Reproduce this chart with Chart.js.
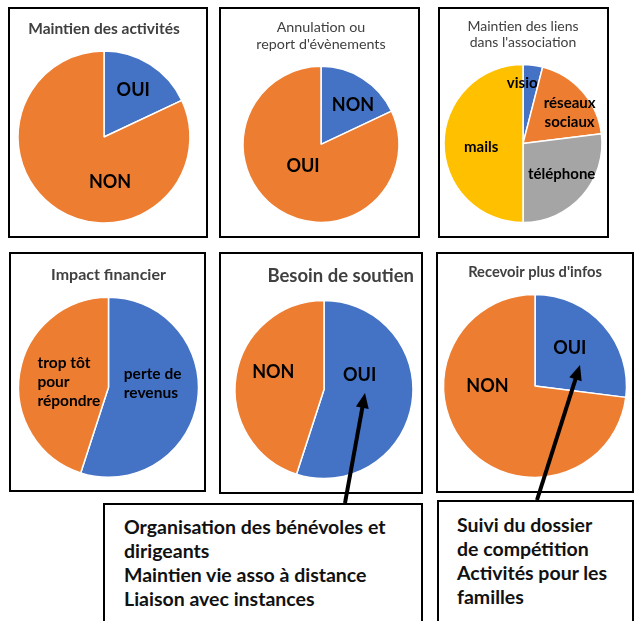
<!DOCTYPE html>
<html lang="fr">
<head>
<meta charset="utf-8">
<script src="https://cdn.jsdelivr.net/npm/chart.js@4.4.1/dist/chart.umd.min.js"></script>
<style>
  html, body { margin: 0; padding: 0; background: #fff; }
  body { width: 639px; height: 621px; position: relative; overflow: hidden; font-family: Lato, sans-serif; }
  .box { position: absolute; border: 2px solid #000; box-sizing: border-box; background: #fff; }
  .box canvas { position: absolute; left: 0; top: 0; }
  .note { position: absolute; border: 2px solid #000; border-bottom: none; box-sizing: border-box;
          font-weight: bold; font-size: 19.5px; line-height: 24px; color: #111; background: #fff; white-space: nowrap; }
  #arrows { position: absolute; left: 0; top: 0; }
</style>
</head>
<body>
<div class="note" style="left:103px; top:503px; width:320px; height:130px; padding:10px 0 0 19px;">
  Organisation des bénévoles et<br>dirigeants<br>Maintien vie asso à distance<br>Liaison avec instances
</div>
<div class="note" style="left:437px; top:500px; width:197px; height:130px; padding:11px 0 0 18px;">
  Suivi du dossier<br>de compétition<br>Activités pour les<br>familles
</div>
<svg id="arrows" width="639" height="621"></svg>
<script>
"use strict";

// données (en %)
const activitesLabels = ["OUI", "NON"];
const activitesValues = [18, 82];

const annulationLabels = ["NON", "OUI"];
const annulationValues = [18, 82];

const liensLabels = ["visio", "réseaux sociaux", "téléphone", "mails"];
const liensValues = [4, 19, 27, 50];

const impactLabels = ["perte de revenus", "trop tôt pour répondre"];
const impactValues = [55, 45];

const soutienLabels = ["OUI", "NON"];
const soutienValues = [55, 45];

const infosLabels = ["OUI", "NON"];
const infosValues = [27, 73];

const BLUE = "#4472C4", ORANGE = "#ED7D31", GREY = "#A5A5A5", YELLOW = "#FFC000";

// étiquettes dans les parts (dx, dy en fraction du rayon)
const sliceLabels = {
    id: "sliceLabels",
    afterDatasetsDraw(chart, args, opts) {
        const arc = chart.getDatasetMeta(0).data[0];
        const ctx = chart.ctx;
        const lh = opts.size * 1.25;
        ctx.save();
        ctx.fillStyle = "#000";
        ctx.textBaseline = "middle";
        ctx.font = "bold " + opts.size + "px Lato";
        opts.items.forEach(it => {
            const lines = it.lines || [chart.data.labels[it.i]];
            const x0 = arc.x + it.dx * arc.outerRadius;
            const y0 = arc.y + it.dy * arc.outerRadius - (lines.length - 1) * lh / 2;
            ctx.textAlign = it.align || "center";
            lines.forEach((t, k) => ctx.fillText(t, x0, y0 + k * lh));
        });
        ctx.restore();
    }
};

function makePie(s) {
    const div = document.createElement("div");
    div.className = "box";
    div.style.left = s.box[0] + "px";
    div.style.top = s.box[1] + "px";
    div.style.width = s.box[2] + "px";
    div.style.height = s.box[3] + "px";
    const W = s.box[2] - 4, H = s.box[3] - 4;
    const canvas = document.createElement("canvas");
    canvas.width = W;
    canvas.height = H;
    div.appendChild(canvas);
    document.body.insertBefore(div, document.getElementById("arrows"));

    // placement du centre du camembert
    const lx = s.center[0] - s.box[0] - 2;
    const ly = s.center[1] - s.box[1] - 2;
    const lineH = s.title.size * s.title.lh;
    const pt = s.title.y - s.box[1] - 2 - lineH / 2;
    const titleH = pt + lineH * s.title.text.length;
    const diff = 2 * lx - W;
    const inset = s.title.inset || 0;
    const padR = Math.max(0, -diff) + inset;
    const padL = padR + diff;
    const padB = titleH + H - 2 * ly;

    new Chart(canvas, {
        type: "pie",
        data: {
            labels: s.labels,
            datasets: [{
                data: s.values,
                backgroundColor: s.colors,
                borderColor: "#fff",
                borderWidth: 1.5
            }]
        },
        options: {
            responsive: false,
            animation: false,
            radius: s.radius,
            layout: { padding: { left: padL, right: padR, top: 0, bottom: padB } },
            plugins: {
                legend: { display: false },
                tooltip: { enabled: false },
                title: {
                    display: true,
                    text: s.title.text,
                    align: s.title.align || "center",
                    color: "#404040",
                    font: { family: "Lato", size: s.title.size, weight: s.title.weight, lineHeight: s.title.lh },
                    padding: { top: pt, bottom: 0 }
                },
                sliceLabels: { size: s.labelSize, items: s.items }
            }
        },
        plugins: [sliceLabels]
    });
}

makePie({
    box: [8, 7, 200, 231], center: [104, 137], radius: 86,
    labels: activitesLabels, values: activitesValues, colors: [BLUE, ORANGE],
    title: { text: ["Maintien des activités"], size: 15.5, weight: "bold", lh: 1.2, y: 29 },
    labelSize: 18,
    items: [{ i: 0, dx: 0.34, dy: -0.55 }, { i: 1, dx: 0.07, dy: 0.52 }]
});

makePie({
    box: [219, 7, 201, 231], center: [321, 145], radius: 78,
    labels: annulationLabels, values: annulationValues, colors: [BLUE, ORANGE],
    title: { text: ["Annulation ou", "report d'évènements"], size: 14.3, weight: "normal", lh: 1.2, y: 27 },
    labelSize: 18,
    items: [{ i: 0, dx: 0.41, dy: -0.5 }, { i: 1, dx: -0.23, dy: 0.28 }]
});

makePie({
    box: [438, 7, 171, 231], center: [523, 144], radius: 79,
    labels: liensLabels, values: liensValues, colors: [BLUE, ORANGE, GREY, YELLOW],
    title: { text: ["Maintien des liens", "dans l'association"], size: 14, weight: "normal", lh: 1.2, y: 26 },
    labelSize: 15,
    items: [
        { i: 0, dx: -0.01, dy: -0.77 },
        { i: 1, dx: 0.59, dy: -0.39, lines: ["réseaux", "sociaux"] },
        { i: 2, dx: 0.49, dy: 0.39 },
        { i: 3, dx: -0.53, dy: 0.04 }
    ]
});

makePie({
    box: [9, 252, 197, 240], center: [108.5, 387.5], radius: 90,
    labels: impactLabels, values: impactValues, colors: [BLUE, ORANGE],
    title: { text: ["Impact financier"], size: 16, weight: "bold", lh: 1.2, y: 275 },
    labelSize: 15.5,
    items: [
        { i: 0, dx: 0.17, dy: -0.04, align: "left", lines: ["perte de", "revenus"] },
        { i: 1, dx: -0.79, dy: -0.06, align: "left", lines: ["trop tôt", "pour", "répondre"] }
    ]
});

makePie({
    box: [219, 252, 204, 242], center: [324, 391], radius: 89,
    labels: soutienLabels, values: soutienValues, colors: [BLUE, ORANGE],
    title: { text: ["Besoin de soutien"], size: 18.5, weight: "bold", lh: 1.2, y: 276, align: "end", inset: 7 },
    labelSize: 18,
    items: [{ i: 0, dx: 0.40, dy: -0.16 }, { i: 1, dx: -0.57, dy: -0.2 }]
});

makePie({
    box: [436, 252, 198, 241], center: [535, 386.5], radius: 91.5,
    labels: infosLabels, values: infosValues, colors: [BLUE, ORANGE],
    title: { text: ["Recevoir plus d'infos"], size: 14.7, weight: "bold", lh: 1.2, y: 272 },
    labelSize: 18,
    items: [{ i: 0, dx: 0.38, dy: -0.41 }, { i: 1, dx: -0.52, dy: 0 }]
});

// flèches vers les encadrés
function arrow(x1, y1, x2, y2) {
    const svg = document.getElementById("arrows");
    const len = Math.hypot(x2 - x1, y2 - y1);
    const ux = (x2 - x1) / len, uy = (y2 - y1) / len;
    const hl = 15, hw = 6.5;
    const bx = x2 - ux * hl, by = y2 - uy * hl;
    const ns = "http://www.w3.org/2000/svg";
    const line = document.createElementNS(ns, "line");
    line.setAttribute("x1", x1); line.setAttribute("y1", y1);
    line.setAttribute("x2", bx + ux * 2); line.setAttribute("y2", by + uy * 2);
    line.setAttribute("stroke", "#000"); line.setAttribute("stroke-width", 4);
    svg.appendChild(line);
    const head = document.createElementNS(ns, "polygon");
    head.setAttribute("points", [
        x2 + "," + y2,
        (bx - uy * hw) + "," + (by + ux * hw),
        (bx + uy * hw) + "," + (by - ux * hw)
    ].join(" "));
    head.setAttribute("fill", "#000");
    svg.appendChild(head);
}
arrow(345, 503, 365, 393);
arrow(537, 500, 580, 365);
</script>
</body>
</html>
